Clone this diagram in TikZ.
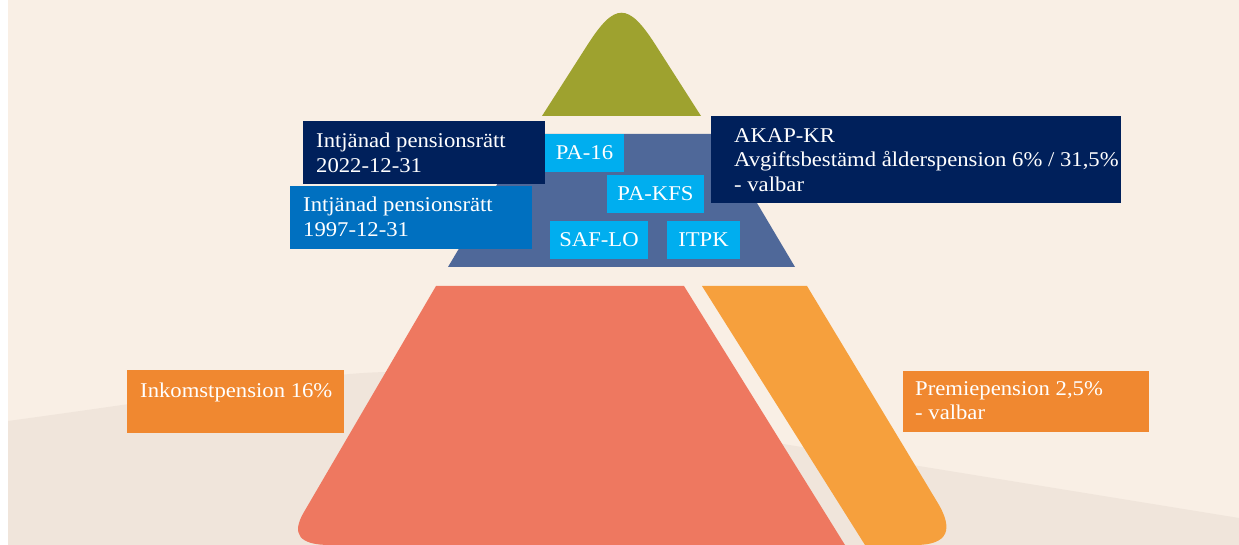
\documentclass[tikz,border=0pt]{standalone}
\usepackage{fontspec}
\setmainfont{Liberation Serif}[FakeStretch=1.08]
\definecolor{cream}{HTML}{F9EFE5}
\definecolor{sand}{HTML}{F0E5DB}
\definecolor{olive}{HTML}{9EA22F}
\definecolor{slate}{HTML}{4F6899}
\definecolor{coral}{HTML}{EE7860}
\definecolor{apricot}{HTML}{F6A03D}
\definecolor{navy}{HTML}{00205B}
\definecolor{midblue}{HTML}{0070C0}
\definecolor{cyanbox}{HTML}{00AEEF}
\definecolor{tangerine}{HTML}{F08830}
\tikzset{
  txt/.style={text=white, anchor=north west, inner sep=0pt, align=left, font=\fontsize{21}{24.5}\selectfont},
  tag/.style={fill=cyanbox, text=white, inner sep=0pt, minimum height=38pt, font=\fontsize{21}{24.5}\selectfont},
}
\begin{document}
\begin{tikzpicture}[x=1pt,y=-1pt]
  \useasboundingbox (0,0) rectangle (1239,545);
  \fill[white] (0,0) rectangle (1239,545);
   \fill[cream] (8,0) rectangle (1239,545);
   \fill[sand] (8,421) .. controls (250,388) and (330,371) .. (400,372) .. controls (520,376) and (640,420) .. (777,443) -- (1239,518) -- (1239,545) -- (8,545) -- cycle;
 % pyramid
   \fill[olive] (542,116) -- (587.4,45) .. controls (614.9,2) and (628.1,2) .. (655.6,45) -- (701,116) -- cycle;
   \fill[slate] (527,134) -- (716,134) -- (795,267) -- (448,267) -- cycle;
   \fill[coral] (436,286) -- (684,286) -- (845,545) -- (330,545) .. controls (299,545) and (291,534) .. (304,512) -- cycle;
   \fill[apricot] (702,286) -- (807,286) -- (936,500) .. controls (955,530) and (948,545) .. (915,545) -- (865,545) -- cycle;
 % labels
   \fill[navy] (303,121) rectangle (545,184);
    \node[txt] (intj22) at (316,133) {Intjänad pensionsrätt\\2022-12-31};
   \fill[midblue] (290,186) rectangle (532,249);
    \node[txt] (intj97) at (303,197) {Intjänad pensionsrätt\\1997-12-31};
   \node[tag, minimum width=79pt] (pa16) at (584.5,153) {PA-16};
   \node[tag, minimum width=97pt] (pakfs) at (655.5,194) {PA-KFS};
   \node[tag, minimum width=98pt] (saflo) at (599,240) {SAF-LO};
   \node[tag, minimum width=73pt] (itpk) at (703.5,240) {ITPK};
   \fill[navy] (711,116) rectangle (1121,203);
    \node[txt] (akap) at (734,128) {AKAP-KR\\Avgiftsbestämd ålderspension 6\% / 31,5\%\\- valbar};
   \fill[tangerine] (127,370) rectangle (344,433);
    \node[txt] (inkomst) at (140,383) {Inkomstpension 16\%};
   \fill[tangerine] (903,371) rectangle (1149,432);
    \node[txt] (premie) at (915,381) {Premiepension 2,5\%\\- valbar};
\end{tikzpicture}
\end{document}
